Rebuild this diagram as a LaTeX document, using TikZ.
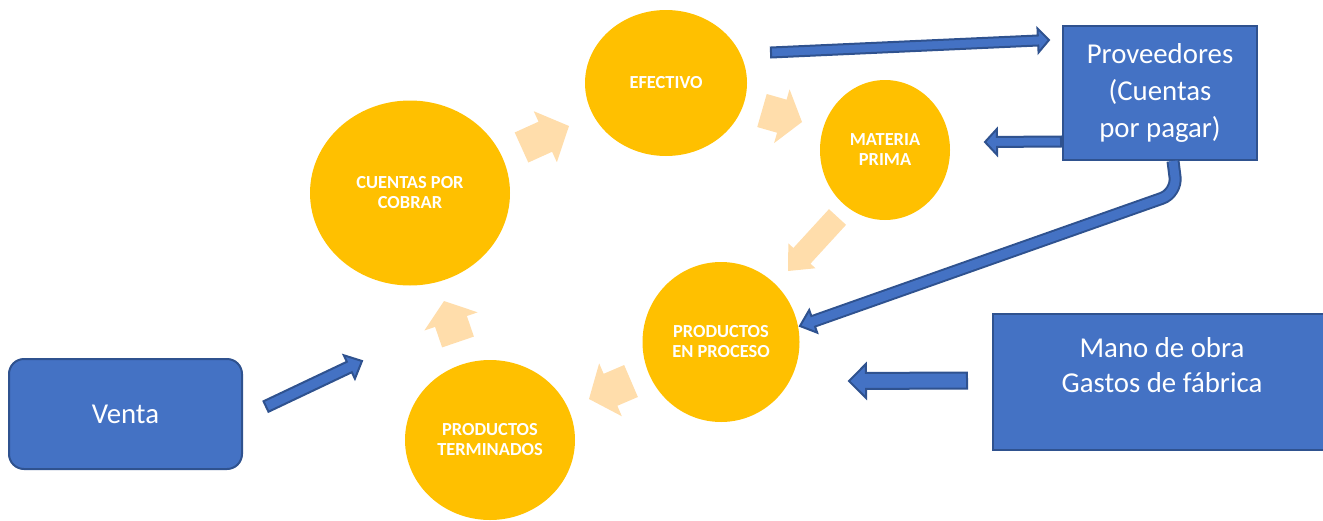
\documentclass[tikz,border=0pt]{standalone}
\usepackage{fontspec}
\setmainfont{Carlito}
\usepackage{tikz}
\usetikzlibrary{calc,shapes.geometric}
\usepackage{xcolor}

\definecolor{amarillo}{HTML}{FFC000}
\definecolor{durazno}{HTML}{FFDDAB}
\definecolor{azul}{HTML}{4472C4}
\definecolor{azulosc}{HTML}{2F528F}

\tikzset{
  circulo/.style={ellipse, fill=amarillo, text=white, inner sep=0pt, align=center,
    font=\bfseries\fontsize{9.2}{10}\selectfont},
  caja/.style={rectangle, fill=azul, draw=azulosc, line width=1pt, text=white,
    align=center, inner sep=0pt, font=\fontsize{14.4}{18.7}\selectfont},
  flechaazul/.style={fill=azul, draw=azulosc, line width=1pt, line join=miter},
  flechaclara/.style={fill=durazno, draw=none},
}

% flecha de bloque: estilo, origen, destino, medio ancho, medio ancho punta, largo punta
\newcommand{\bloque}[6]{%
  \coordinate (hb) at ($(#3)!#6!(#2)$);
  \draw[#1] ($(#2)!#4!90:(#3)$) -- ($(hb)!#4!90:(#3)$) -- ($(hb)!#5!90:(#3)$) -- (#3)
    -- ($(hb)!#5!-90:(#3)$) -- ($(hb)!#4!-90:(#3)$) -- ($(#2)!#4!-90:(#3)$) -- cycle;
}

\begin{document}
\begin{tikzpicture}[x=0.5pt, y=-0.5pt]
    \useasboundingbox (0,0) rectangle (1323,520);
    \clip (0,0) rectangle (1323,520);

    % Circulos del ciclo
    \node[circulo, minimum width=81pt, minimum height=73pt] (efectivo) at (666,83) {EFECTIVO};
    \node[circulo, minimum width=65pt, minimum height=70pt] (materia) at (885,150) {MATERIA\\PRIMA};
    \node[circulo, minimum width=100pt, minimum height=92.5pt] (cobrar) at (410,193) {CUENTAS POR\\COBRAR};
    \node[circulo, minimum width=78.5pt, minimum height=80pt] (proceso) at (721,342) {PRODUCTOS\\EN PROCESO};
    \node[circulo, minimum width=85pt, minimum height=80pt] (terminados) at (490,440) {PRODUCTOS\\TERMINADOS};

    % Cajas azules
    \node[caja, minimum width=97pt, minimum height=67pt] (prov) at (1160,93) {Proveedores\\(Cuentas\\por pagar)};
    \node[caja, minimum width=169pt, minimum height=68pt, font=\fontsize{14.4}{17.5}\selectfont] (mano) at (1162,382) {Mano de obra\\Gastos de fábrica\\[-0.7pt]\mbox{}};
    \node[caja, rounded corners=7.5pt, minimum width=116.5pt, minimum height=55pt] (venta) at (125.5,414) {Venta};

    % Flechas claras entre los circulos
    \coordinate (c1) at (521.5,147.5); \coordinate (c1p) at (569,126);
    \coordinate (c2) at (762,110.5);   \coordinate (c2p) at (802,122);
    \coordinate (c3) at (837.5,217);   \coordinate (c3p) at (788,271);
    \coordinate (c4) at (631,381);     \coordinate (c4p) at (589,399);
    \coordinate (c5) at (458,342);     \coordinate (c5p) at (444,301);
    \bloque{flechaclara}{c1}{c1p}{8.25pt}{14pt}{13pt}
    \bloque{flechaclara}{c2}{c2p}{8.6pt}{14pt}{10.5pt}
    \bloque{flechaclara}{c3}{c3p}{5.8pt}{9.2pt}{10.3pt}
    \bloque{flechaclara}{c4}{c4p}{8.7pt}{14.4pt}{11.7pt}
    \bloque{flechaclara}{c5}{c5p}{8.4pt}{14.1pt}{10.8pt}

    % Flechas azules
    \coordinate (a1) at (771,52.5);  \coordinate (a1p) at (1049,40);
    \coordinate (a2) at (1061,141.5); \coordinate (a2p) at (985,142);
    \coordinate (a3) at (266,406.5); \coordinate (a3p) at (362,361);
    \coordinate (a4) at (967,380.5); \coordinate (a4p) at (849,381);
    \bloque{flechaazul}{a1}{a1p}{2.5pt}{6pt}{5.5pt}
    \bloque{flechaazul}{a2}{a2p}{2.5pt}{6.5pt}{6pt}
    \bloque{flechaazul}{a3}{a3p}{2.9pt}{6.5pt}{7pt}
    \bloque{flechaazul}{a4}{a4p}{4pt}{8.5pt}{8.5pt}

    % Flecha doblada de proveedores a productos en proceso
    \coordinate (pS) at (1173,161);
    \coordinate (pC) at (1177,193);
    \coordinate (pT) at (800,326);
    \coordinate (pH) at ($(pT)!7pt!(pC)$);
    \draw[azulosc, line width=6.5pt, rounded corners=8pt] (pS) -- (pC) -- (pH);
    \draw[flechaazul] ($(pH)!6pt!90:(pT)$) -- (pT) -- ($(pH)!6pt!-90:(pT)$) -- cycle;
    \draw[azul, line width=4.5pt, rounded corners=8pt] (pS) -- (pC) -- ($(pH)!1.5pt!(pT)$);
\end{tikzpicture}
\end{document}
